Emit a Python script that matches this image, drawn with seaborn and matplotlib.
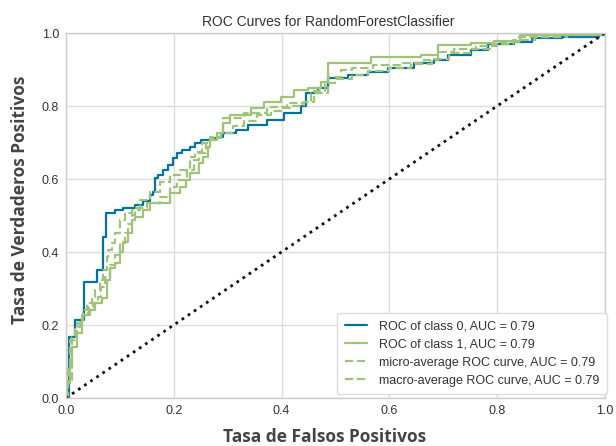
import matplotlib
matplotlib.use("Agg")
import matplotlib.pyplot as plt
import seaborn as sns
import pandas as pd

# ---- data ----
class0_fpr = [0.0, 0.005, 0.017, 0.033, 0.057, 0.068, 0.074, 0.091, 0.106, 0.128,
              0.143, 0.156, 0.162, 0.166, 0.171, 0.181, 0.19, 0.199, 0.207, 0.216,
              0.231, 0.24, 0.25, 0.268, 0.281, 0.292, 0.315, 0.337, 0.374, 0.404,
              0.436, 0.445, 0.467, 0.486, 0.523, 0.561, 0.598, 0.646, 0.683, 0.709,
              0.752, 0.784, 0.832, 0.864, 0.92, 0.989, 1.0]
class0_tpr = [0.0, 0.167, 0.214, 0.317, 0.35, 0.44, 0.507, 0.515, 0.52, 0.528,
              0.54, 0.556, 0.564, 0.603, 0.61, 0.625, 0.638, 0.657, 0.67, 0.68,
              0.688, 0.70, 0.707, 0.712, 0.715, 0.726, 0.735, 0.748, 0.762, 0.78,
              0.80, 0.835, 0.85, 0.877, 0.885, 0.893, 0.904, 0.918, 0.926, 0.94,
              0.953, 0.97, 0.975, 0.986, 0.99, 0.995, 1.0]

class1_fpr = [0.0, 0.002, 0.008, 0.011, 0.02, 0.03, 0.045, 0.054, 0.067, 0.076,
              0.082, 0.091, 0.101, 0.106, 0.115, 0.123, 0.128, 0.143, 0.156, 0.194,
              0.212, 0.222, 0.231, 0.246, 0.255, 0.263, 0.268, 0.281, 0.292, 0.305,
              0.343, 0.367, 0.399, 0.423, 0.449, 0.473, 0.486, 0.566, 0.659, 0.691,
              0.752, 0.795, 0.842, 0.989, 1.0]
class1_tpr = [0.0, 0.04, 0.085, 0.14, 0.178, 0.227, 0.24, 0.26, 0.274, 0.323,
              0.356, 0.37, 0.40, 0.427, 0.452, 0.488, 0.496, 0.515, 0.534, 0.562,
              0.578, 0.597, 0.616, 0.643, 0.66, 0.688, 0.707, 0.726, 0.753, 0.775,
              0.795, 0.811, 0.825, 0.844, 0.849, 0.866, 0.918, 0.934, 0.94, 0.967,
              0.973, 0.978, 0.995, 1.0, 1.0]

micro_fpr = [0.0, 0.004, 0.007, 0.017, 0.026, 0.032, 0.039, 0.048, 0.054, 0.063,
             0.069, 0.076, 0.079, 0.085, 0.091, 0.101, 0.11, 0.122, 0.138, 0.156,
             0.175, 0.194, 0.212, 0.231, 0.24, 0.253, 0.268, 0.287, 0.31, 0.33,
             0.355, 0.38, 0.40, 0.42, 0.442, 0.46, 0.48, 0.50, 0.53, 0.56,
             0.60, 0.64, 0.68, 0.71, 0.75, 0.79, 0.83, 0.87, 0.93, 1.0]
micro_tpr = [0.0, 0.086, 0.159, 0.195, 0.214, 0.241, 0.259, 0.277, 0.296, 0.323,
             0.351, 0.387, 0.405, 0.424, 0.451, 0.488, 0.506, 0.515, 0.542, 0.565,
             0.593, 0.611, 0.625, 0.661, 0.675, 0.698, 0.711, 0.725, 0.745, 0.76,
             0.775, 0.785, 0.795, 0.80, 0.81, 0.84, 0.862, 0.875, 0.885, 0.895,
             0.905, 0.915, 0.93, 0.945, 0.955, 0.97, 0.98, 0.99, 0.995, 1.0]

macro_fpr = [0.0, 0.003, 0.011, 0.02, 0.032, 0.042, 0.051, 0.06, 0.066, 0.073,
             0.082, 0.091, 0.101, 0.11, 0.116, 0.122, 0.128, 0.15, 0.175, 0.194,
             0.206, 0.225, 0.237, 0.246, 0.259, 0.268, 0.287, 0.292, 0.33, 0.374,
             0.41, 0.442, 0.454, 0.486, 0.51, 0.53, 0.57, 0.62, 0.66, 0.69,
             0.72, 0.76, 0.80, 0.84, 0.90, 1.0]
macro_tpr = [0.0, 0.05, 0.168, 0.205, 0.232, 0.25, 0.259, 0.277, 0.305, 0.332,
             0.364, 0.392, 0.424, 0.451, 0.478, 0.501, 0.52, 0.533, 0.552, 0.579,
             0.597, 0.625, 0.652, 0.67, 0.698, 0.716, 0.734, 0.767, 0.78, 0.797,
             0.808, 0.812, 0.835, 0.879, 0.899, 0.905, 0.912, 0.918, 0.925, 0.948,
             0.955, 0.965, 0.975, 0.99, 0.997, 1.0]

labels = ["ROC of class 0, AUC = 0.79",
          "ROC of class 1, AUC = 0.79",
          "micro-average ROC curve, AUC = 0.79",
          "macro-average ROC curve, AUC = 0.79"]
ticks = [0.0, 0.2, 0.4, 0.6, 0.8, 1.0]
tick_labels = ["0.0", "0.2", "0.4", "0.6", "0.8", "1.0"]

BLUE = "#0272a2"
GREEN = "#9fc377"

sns.set_theme(style="whitegrid")
plt.rcParams["font.family"] = ["Liberation Sans", "DejaVu Sans"]
plt.rcParams["grid.color"] = "#dddddd"
plt.rcParams["grid.linewidth"] = 1.0

fig = plt.figure(figsize=(6.16, 4.46), dpi=100)
ax = fig.add_axes([0.107, 0.1076, 0.875, 0.8184])

series = [
    (class0_fpr, class0_tpr, labels[0], BLUE, "-"),
    (class1_fpr, class1_tpr, labels[1], GREEN, "-"),
    (micro_fpr, micro_tpr, labels[2], GREEN, "--"),
    (macro_fpr, macro_tpr, labels[3], GREEN, "--"),
]
for fpr, tpr, lab, col, ls in series:
    df = pd.DataFrame({"fpr": fpr, "tpr": tpr})
    sns.lineplot(data=df, x="fpr", y="tpr", ax=ax, estimator=None, sort=False,
                 color=col, linestyle=ls, linewidth=1.6, label=lab,
                 drawstyle="steps-post")

ax.plot([0, 1], [0, 1], linestyle=":", color="#111111", linewidth=2.0)

ax.set_xlim(0, 1)
ax.set_ylim(0, 1)
ax.set_xticks(ticks)
ax.set_xticklabels(tick_labels)
ax.set_yticks(ticks)
ax.set_yticklabels(tick_labels)
ax.tick_params(axis="both", labelsize=9, colors="#333333", length=0, pad=5)
for s in ax.spines.values():
    s.set_color("#cccccc")
    s.set_linewidth(1.0)

ax.set_title("ROC Curves for RandomForestClassifier", fontsize=10,
             color="#333333", pad=5, x=0.486)
ax.set_xlabel("Tasa de Falsos Positivos", fontsize=12.5, fontweight="bold",
              family=["Open Sans", "DejaVu Sans"], color="#444444")
ax.set_ylabel("Tasa de Verdaderos Positivos", fontsize=12.5, fontweight="bold",
              family=["Open Sans", "DejaVu Sans"], color="#444444")
ax.xaxis.set_label_coords(0.479, -0.107, transform=ax.transAxes)
ax.xaxis.label.set_verticalalignment("center")
ax.yaxis.set_label_coords(-0.085, 0.542, transform=ax.transAxes)
ax.yaxis.label.set_verticalalignment("center")

leg = ax.legend(loc="lower right", fontsize=9, frameon=True, facecolor="white",
                edgecolor="#dddddd", framealpha=1.0, borderpad=0.6,
                borderaxespad=0.3, handlelength=1.8, handletextpad=0.9,
                labelspacing=0.5, bbox_to_anchor=(1.01, 0.0))
for t in leg.get_texts():
    t.set_color("#333333")

fig.savefig("out.png", dpi=100)
